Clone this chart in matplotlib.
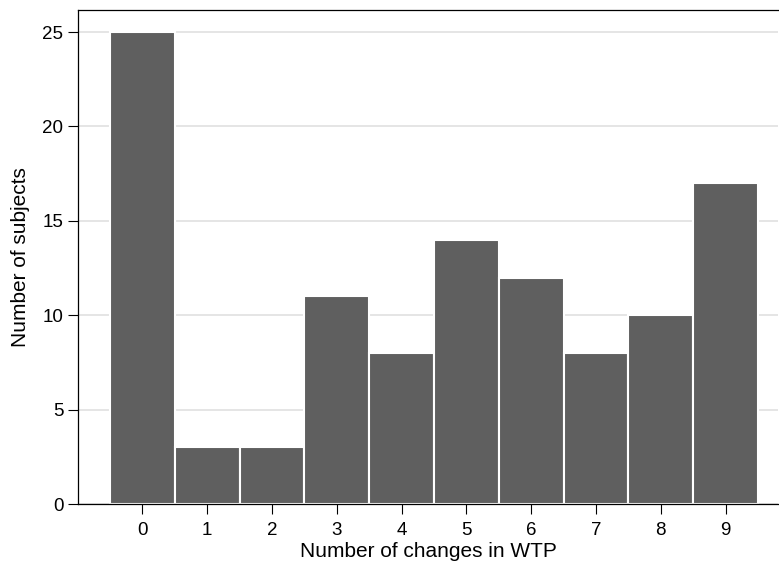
import matplotlib
matplotlib.use("Agg")
import matplotlib.pyplot as plt

changes = [0, 1, 2, 3, 4, 5, 6, 7, 8, 9]
subjects = [25, 3, 3, 11, 8, 14, 12, 8, 10, 17]

plt.rcParams["font.family"] = ["Liberation Sans", "DejaVu Sans"]

fig = plt.figure(figsize=(7.79, 5.66), dpi=100)
ax = fig.add_axes([0.1001, 0.1095, 0.8986, 0.8728])

ax.bar(changes, subjects, width=1.0, color="#5f5f5f", edgecolor="white", linewidth=1.5, zorder=2)

ax.set_xlim(-0.994, 9.81)
ax.set_ylim(0, 26.17)
ax.set_xticks(changes)
ax.set_yticks([0, 5, 10, 15, 20, 25])
ax.yaxis.grid(True, color="#e0e0e0", linewidth=1.2, zorder=0)
ax.set_axisbelow(True)
ax.tick_params(labelsize=13.5, length=7, width=0.8, colors="black")
ax.tick_params(axis="x", pad=6)
ax.set_xlabel("Number of changes in WTP", fontsize=15, labelpad=2)
ax.set_ylabel("Number of subjects", fontsize=15, labelpad=9)
ax.spines["right"].set_visible(False)
for s in ax.spines.values():
    s.set_linewidth(0.9)

fig.savefig("out.png", dpi=100)
